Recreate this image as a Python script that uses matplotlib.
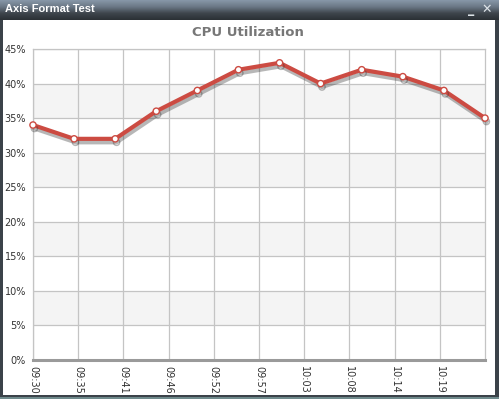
import numpy as np
import matplotlib
matplotlib.use('Agg')
import matplotlib.pyplot as plt
import matplotlib.patheffects as pe
from matplotlib.patches import Rectangle
from matplotlib.colors import LinearSegmentedColormap

# data (minutes after 09:30)
minutes = [0, 5, 10, 15, 20, 25, 30, 35, 40, 45, 50, 55]
cpu = [34, 32, 32, 36, 39, 42, 43, 40, 42, 41, 39, 35]
tick_pos = [0, 5.5, 11, 16.5, 22, 27.5, 33, 38.5, 44, 49.5]
tick_lbl = ['09:30', '09:35', '09:41', '09:46', '09:52', '09:57',
            '10:03', '10:08', '10:14', '10:19']
y_ticks = [0, 5, 10, 15, 20, 25, 30, 35, 40, 45]

W, H = 499, 399
fig = plt.figure(figsize=(W / 100, H / 100), dpi=100)
fig.patch.set_facecolor('#3b4249')

def fx(px):
    return px / W

def fy(py):
    return 1 - py / H

# window frame: white content panel + bottom strip
fig.patches.append(Rectangle((fx(3), fy(395)), fx(492), 375 / H,
                             transform=fig.transFigure, facecolor='white',
                             edgecolor='none', zorder=-5))
fig.patches.append(Rectangle((0, 0), 1, 2 / H, transform=fig.transFigure,
                             facecolor='#6f8a8c', edgecolor='none', zorder=-5))

# title bar gradient
tb = fig.add_axes([0, fy(20), 1, 20 / H])
grad = np.linspace(0, 1, 64).reshape(-1, 1)
cmap = LinearSegmentedColormap.from_list('tb', ['#8797a8', '#6b7886', '#3e454c', '#2b3035'])
tb.imshow(grad, aspect='auto', cmap=cmap, extent=[0, 1, 0, 1], origin='upper')
tb.set_axis_off()
fig.text(fx(5), fy(9.5), 'Axis Format Test', color='white', fontsize=8,
         family='Liberation Sans', fontweight='bold', va='center', ha='left')
fig.text(fx(471), fy(10), '_', color='#dde3e8', fontsize=9, fontweight='bold',
         va='center', ha='center')
fig.text(fx(487), fy(9.5), '✕', color='#dde3e8', fontsize=9, fontweight='bold',
         va='center', ha='center')

ax = fig.add_axes([fx(33), fy(360), fx(452), 311 / H])
ax.set_facecolor('white')
for lo in range(5, 45, 10):
    ax.axhspan(lo, lo + 5, color='#f4f4f4', zorder=0, lw=0)

ax.plot(minutes, cpu, color='#cc4b42', lw=3.0, solid_joinstyle='round',
        marker='o', ms=4.5, mfc='white', mec='#cc4b42', mew=1.0,
        path_effects=[pe.SimpleLineShadow(offset=(1, -2.5), shadow_color='#333333', alpha=0.35),
                      pe.Normal()], zorder=5, clip_on=False)

ax.set_xlim(0, 55)
ax.set_ylim(0, 45)
ax.set_xticks(tick_pos)
ax.set_xticklabels(tick_lbl, rotation=-90, fontsize=7, color='#333333')
ax.set_yticks(y_ticks)
ax.set_yticklabels([f'{v}%' for v in y_ticks], fontsize=7, color='#333333')
ax.grid(True, color='#c4c4c4', lw=0.9, zorder=1)
ax.set_axisbelow(True)
ax.tick_params(length=0, pad=5)
ax.tick_params(axis='x', pad=4)
for s in ['top', 'right', 'left']:
    ax.spines[s].set_color('#c4c4c4')
    ax.spines[s].set_linewidth(0.9)
ax.spines['bottom'].set_color('#9a9a9a')
ax.spines['bottom'].set_linewidth(2.2)

fig.text(fx(248), fy(32), 'CPU Utilization', color='#777777', fontsize=9.5,
         fontweight='bold', ha='center', va='center')

fig.savefig('out.png', dpi=100, facecolor=fig.get_facecolor())
